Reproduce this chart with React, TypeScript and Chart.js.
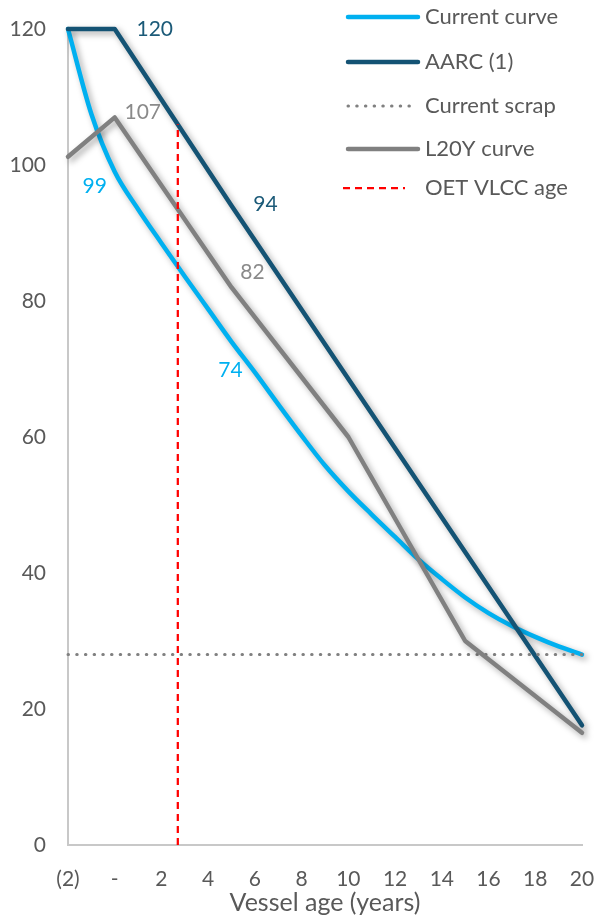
import { useEffect, useRef } from "react";
import { Chart, registerables } from "chart.js";

Chart.register(...registerables);

// Vessel age in years (x) for the yearly current-curve values
const ages = [-2, -1, 0, 1, 2, 3, 4, 5, 6, 7, 8, 9, 10, 11, 12, 13, 14, 15, 16, 17, 18, 19, 20];
const currentCurve = [120, 107.5, 99, 93.5, 88.5, 83.6, 78.8, 74, 69.5, 64.8, 60.2, 55.8, 52.0, 48.6, 45.3, 42.0, 39.1, 36.4, 34.1, 32.2, 30.6, 29.2, 28.0];

const aarcAges = [-2, 0, 5, 20];
const aarcValues = [120, 120, 94, 17.6];

const l20yAges = [-2, 0, 5, 10, 15, 20];
const l20yValues = [101.2, 107, 82, 60, 30, 16.5];

const scrapAges = [-2, 20];
const scrapValues = [28, 28];

const oetAges = [2.7, 2.7];
const oetValues = [0, 106];

const seriesNames = ["Current curve", "AARC (1)", "Current scrap", "L20Y curve", "OET VLCC age"];

const xTickValues = [-2, 0, 2, 4, 6, 8, 10, 12, 14, 16, 18, 20];
const xTickLabels = ["(2)", "-", "2", "4", "6", "8", "10", "12", "14", "16", "18", "20"];
const yTickValues = [0, 20, 40, 60, 80, 100, 120];

const axisTitle = "Vessel age (years)";

const FONT = "Lato";
const TEXT = "#595959";
const BLUE = "#00B0F0";
const NAVY = "#145374";
const GREY = "#808080";
const RED = "#FF0000";

const toPoints = (xs: number[], ys: number[]) => xs.map((x, i) => ({ x, y: ys[i] }));

// Soft drop shadow under the solid curves
const shadowPlugin = {
  id: "curveShadow",
  beforeDatasetDraw(chart: any, args: any) {
    const ds = chart.data.datasets[args.index];
    if (!ds.shadow) return;
    const ctx = chart.ctx;
    ctx.save();
    ctx.shadowColor = "rgba(0,0,0,0.35)";
    ctx.shadowBlur = 6;
    ctx.shadowOffsetX = 3;
    ctx.shadowOffsetY = 3;
  },
  afterDatasetDraw(chart: any, args: any) {
    const ds = chart.data.datasets[args.index];
    if (!ds.shadow) return;
    chart.ctx.restore();
  },
};

// Value callouts next to selected points
const callouts = [
  { series: 1, point: 1, dx: 40, dy: 0 },
  { series: 1, point: 2, dx: 34, dy: -2 },
  { series: 3, point: 1, dx: 28, dy: -5 },
  { series: 3, point: 2, dx: 21, dy: -15 },
  { series: 0, point: 2, dx: -20, dy: 14 },
  { series: 0, point: 7, dx: -1, dy: 28 },
];

const calloutPlugin = {
  id: "callouts",
  afterDatasetsDraw(chart: any) {
    const ctx = chart.ctx;
    ctx.save();
    ctx.font = `21px ${FONT}`;
    ctx.textAlign = "center";
    ctx.textBaseline = "middle";
    for (const c of callouts) {
      const ds = chart.data.datasets[c.series];
      const el = chart.getDatasetMeta(c.series).data[c.point];
      const v = ds.data[c.point].y;
      ctx.fillStyle = ds.labelColor || ds.borderColor;
      ctx.fillText(String(Math.round(v)), el.x + c.dx, el.y + c.dy);
    }
    ctx.restore();
  },
};

// Legend drawn as a column in the upper right
const legendRows = [17, 62, 106, 149, 188];
const legendPlugin = {
  id: "sideLegend",
  afterDraw(chart: any) {
    const ctx = chart.ctx;
    ctx.save();
    chart.data.datasets.forEach((ds: any, i: number) => {
      const y = legendRows[i];
      ctx.save();
      ctx.strokeStyle = ds.borderColor;
      ctx.lineWidth = ds.borderWidth;
      ctx.lineCap = ds.borderCapStyle || "butt";
      ctx.setLineDash(ds.borderDash || []);
      ctx.beginPath();
      const x0 = ds.legendStart ?? 348;
      const x1 = ds.legendEnd ?? 418;
      ctx.moveTo(x0, y);
      ctx.lineTo(x1, y);
      ctx.stroke();
      ctx.restore();
      ctx.fillStyle = TEXT;
      ctx.font = `22px ${FONT}`;
      ctx.textAlign = "left";
      ctx.textBaseline = "middle";
      ctx.fillText(ds.label, 425, y);
    });
    ctx.restore();
  },
};

export default function App() {
  const ref = useRef<HTMLCanvasElement>(null);

  useEffect(() => {
    document.body.style.margin = "0";
    const canvas = ref.current;
    if (!canvas) return;

    const chart = new Chart(canvas, {
      type: "line",
      data: {
        datasets: [
          {
            label: seriesNames[0],
            data: toPoints(ages, currentCurve),
            borderColor: BLUE,
            borderWidth: 4.5,
            borderCapStyle: "round",
            borderJoinStyle: "round",
            cubicInterpolationMode: "monotone",
            pointRadius: 0,
            clip: false,
            order: 5,
            shadow: true,
          } as any,
          {
            label: seriesNames[1],
            data: toPoints(aarcAges, aarcValues),
            borderColor: NAVY,
            labelColor: "#1B5A78",
            borderWidth: 4.5,
            borderCapStyle: "round",
            borderJoinStyle: "round",
            tension: 0,
            pointRadius: 0,
            clip: false,
            order: 4,
            shadow: true,
          } as any,
          {
            label: seriesNames[2],
            data: toPoints(scrapAges, scrapValues),
            borderColor: GREY,
            borderWidth: 3,
            borderCapStyle: "round",
            borderDash: [0.5, 8.2],
            legendEnd: 410,
            tension: 0,
            pointRadius: 0,
            clip: false,
            order: 3,
          } as any,
          {
            label: seriesNames[3],
            data: toPoints(l20yAges, l20yValues),
            borderColor: GREY,
            labelColor: "#8A8A8A",
            borderWidth: 4.5,
            borderCapStyle: "round",
            borderJoinStyle: "round",
            tension: 0,
            pointRadius: 0,
            clip: false,
            order: 2,
            shadow: true,
          } as any,
          {
            label: seriesNames[4],
            data: toPoints(oetAges, oetValues),
            borderColor: RED,
            borderWidth: 2.25,
            borderDash: [7, 5],
            legendStart: 343,
            legendEnd: 405,
            tension: 0,
            pointRadius: 0,
            clip: false,
            order: 1,
          } as any,
        ],
      },
      options: {
        responsive: false,
        animation: false,
        devicePixelRatio: 1,
        layout: { padding: { left: 0, right: 13, top: 29, bottom: 0 } },
        plugins: {
          legend: { display: false },
          tooltip: { enabled: false },
        },
        scales: {
          x: {
            type: "linear",
            min: -2,
            max: 20,
            grid: { display: false, drawTicks: false },
            border: { display: true, color: "#C8C8C8", width: 2 },
            afterBuildTicks: (scale: any) => {
              scale.ticks = xTickValues.map((value) => ({ value }));
            },
            ticks: {
              padding: 22,
              color: TEXT,
              font: { family: FONT, size: 21 },
              maxRotation: 0,
              autoSkip: false,
              callback: (v: any) => {
                const i = xTickValues.indexOf(Number(v));
                return i >= 0 ? xTickLabels[i] : "";
              },
            },
            title: {
              display: true,
              text: axisTitle,
              color: TEXT,
              font: { family: FONT, size: 25 },
              padding: { top: 0, bottom: 0 },
            },
            afterFit: (scale: any) => {
              scale.height = 73;
              scale.paddingLeft = 0;
              scale.paddingRight = 0;
            },
          },
          y: {
            type: "linear",
            min: 0,
            max: 120,
            grid: { display: false, drawTicks: false },
            border: { display: true, color: "#C8C8C8", width: 2 },
            afterBuildTicks: (scale: any) => {
              scale.ticks = yTickValues.map((value) => ({ value }));
            },
            ticks: {
              padding: 22,
              color: TEXT,
              font: { family: FONT, size: 21 },
            },
            afterFit: (scale: any) => {
              scale.width = 68;
              scale.paddingTop = 0;
              scale.paddingBottom = 0;
            },
          },
        },
      },
      plugins: [shadowPlugin, calloutPlugin, legendPlugin],
    } as any);

    return () => chart.destroy();
  }, []);

  return (
    <div style={{ width: 595, height: 918 }}>
      <canvas ref={ref} width={595} height={918} style={{ display: "block" }} />
    </div>
  );
}
